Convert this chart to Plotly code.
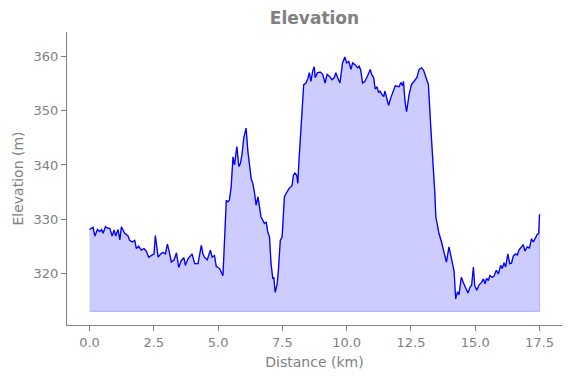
import plotly.graph_objects as go

distance_km = [
    0.00, 0.14, 0.21, 0.31, 0.40, 0.47, 0.53, 0.62, 0.73, 0.79, 0.88, 0.96, 1.02, 1.11, 1.18, 1.24,
    1.37, 1.50, 1.56, 1.66, 1.76, 1.82, 1.91, 2.02, 2.12, 2.21, 2.30, 2.41, 2.51, 2.56, 2.67, 2.77,
    2.86, 2.95, 3.03, 3.12, 3.18, 3.29, 3.38, 3.47, 3.57, 3.67, 3.73, 3.83, 3.89, 3.99, 4.09, 4.22,
    4.35, 4.41, 4.47, 4.58, 4.70, 4.77, 4.86, 4.93, 5.06, 5.19, 5.32, 5.38, 5.44, 5.51, 5.58, 5.64,
    5.73, 5.81, 5.87, 5.93, 6.00, 6.09, 6.16, 6.22, 6.29, 6.35, 6.41, 6.48, 6.55, 6.61, 6.67, 6.74,
    6.80, 6.87, 6.93, 7.00, 7.06, 7.13, 7.17, 7.22, 7.30, 7.35, 7.42, 7.49, 7.58, 7.64, 7.71, 7.77,
    7.84, 7.88, 7.93, 7.99, 8.06, 8.10, 8.14, 8.23, 8.33, 8.42, 8.49, 8.55, 8.61, 8.68, 8.74, 8.78,
    8.87, 8.98, 9.07, 9.16, 9.24, 9.32, 9.43, 9.52, 9.58, 9.65, 9.74, 9.84, 9.93, 10.00, 10.08, 10.17,
    10.23, 10.32, 10.43, 10.49, 10.55, 10.62, 10.71, 10.81, 10.92, 10.97, 11.05, 11.11, 11.18, 11.24,
    11.30, 11.37, 11.44, 11.49, 11.55, 11.63, 11.72, 11.82, 11.89, 11.98, 12.04, 12.11, 12.17, 12.21,
    12.27, 12.33, 12.43, 12.52, 12.62, 12.73, 12.82, 12.91, 12.99, 13.08, 13.18, 13.27, 13.36, 13.43,
    13.47, 13.53, 13.59, 13.69, 13.79, 13.88, 13.98, 14.07, 14.18, 14.24, 14.31, 14.37, 14.46, 14.54,
    14.63, 14.72, 14.80, 14.86, 14.93, 14.98, 15.06, 15.15, 15.24, 15.32, 15.38, 15.44, 15.51, 15.57,
    15.67, 15.73, 15.82, 15.90, 15.99, 16.05, 16.12, 16.18, 16.27, 16.34, 16.41, 16.48, 16.57, 16.64,
    16.70, 16.79, 16.87, 16.93, 17.02, 17.11, 17.19, 17.26, 17.32, 17.41, 17.47, 17.50,
]

elevation_m = [
    328.1, 328.5, 326.9, 328.1, 327.7, 328.1, 327.4, 328.6, 328.3, 328.3, 326.9, 328.0, 326.9, 328.1, 326.2, 328.6,
    327.4, 326.9, 326.1, 325.8, 326.1, 324.6, 325.0, 324.3, 324.6, 324.1, 323.0, 323.3, 323.6, 327.0, 323.0, 323.6,
    323.9, 323.6, 325.4, 323.6, 322.1, 322.5, 323.8, 321.1, 322.4, 322.9, 321.5, 322.7, 323.1, 323.6, 321.8, 321.8,
    325.2, 323.6, 323.0, 322.5, 324.3, 323.0, 323.3, 321.3, 320.9, 319.6, 333.5, 333.2, 333.5, 336.0, 341.5, 340.0,
    343.4, 339.7, 340.3, 341.9, 345.0, 346.8, 342.5, 339.7, 337.4, 336.6, 335.1, 332.6, 334.1, 332.3, 330.4, 329.8,
    329.2, 329.5, 327.7, 326.7, 321.8, 319.0, 319.3, 316.5, 318.1, 320.9, 326.1, 326.7, 334.1, 334.7, 335.4, 335.7,
    336.0, 336.3, 338.1, 338.5, 338.1, 336.6, 340.3, 348.3, 354.8, 355.1, 355.9, 357.0, 355.4, 357.3, 358.1, 356.1,
    357.0, 357.1, 356.7, 355.1, 356.7, 356.4, 355.7, 356.1, 357.0, 356.1, 355.1, 358.8, 359.9, 358.8, 359.1, 357.6,
    358.8, 358.5, 357.9, 358.2, 357.4, 355.1, 355.4, 356.4, 357.6, 356.7, 356.1, 354.0, 354.4, 353.4,
    353.6, 353.0, 352.6, 353.6, 352.2, 351.0, 352.4, 353.6, 354.6, 354.5, 354.4, 355.2, 354.6, 355.4,
    351.7, 349.8, 353.0, 354.8, 355.4, 356.1, 357.6, 357.9, 357.5, 356.4, 354.8, 347.1, 340.9, 334.8,
    330.4, 328.6, 327.4, 325.8, 323.6, 322.1, 324.9, 322.7, 320.4, 315.3, 316.6, 316.1, 319.3, 318.3,
    317.2, 316.4, 317.5, 317.8, 321.2, 317.8, 316.9, 317.9, 318.3, 319.0, 318.1, 319.1, 318.7, 319.6,
    319.3, 319.5, 320.6, 319.9, 321.5, 320.9, 322.0, 321.2, 323.6, 321.8, 321.9, 323.2, 323.6, 323.4,
    324.3, 324.9, 325.3, 324.1, 324.9, 324.7, 326.4, 325.8, 326.5, 327.2, 327.4, 330.9,
]

fill_base_m = 313.0
x_ticks = [0.0, 2.5, 5.0, 7.5, 10.0, 12.5, 15.0, 17.5]
y_ticks = [320, 330, 340, 350, 360]

GRAY = "#808080"
FONT = "DejaVu Sans"

fig = go.Figure()

# filled area under profile (polygon down to baseline)
fill_x = distance_km + distance_km[::-1]
fill_y = elevation_m + [fill_base_m] * len(distance_km)
fig.add_trace(go.Scatter(
    x=fill_x, y=fill_y, mode="lines", fill="toself",
    fillcolor="rgba(0,0,255,0.2)",
    line=dict(color="rgba(0,0,255,0.2)", width=1.2),
    hoverinfo="skip", showlegend=False,
))

fig.add_trace(go.Scatter(
    x=distance_km, y=elevation_m, mode="lines",
    line=dict(color="#0000ff", width=1.3),
    showlegend=False,
))

fig.update_layout(
    width=571, height=378,
    margin=dict(l=67, r=9, t=32, b=53),
    paper_bgcolor="white", plot_bgcolor="white",
    font=dict(family=FONT, color=GRAY, size=13),
    title=dict(
        text="<b>Elevation</b>", x=0.5, xref="paper", xanchor="center",
        y=1 - 18 / 378, yref="container", yanchor="middle",
        font=dict(family=FONT, size=17, color=GRAY),
    ),
)

fig.update_xaxes(
    range=[-0.875, 18.375],
    tickvals=x_ticks, ticktext=[f"{v:.1f}" for v in x_ticks],
    showgrid=False, zeroline=False,
    showline=True, linecolor=GRAY, linewidth=1,
    ticks="outside", ticklen=5, tickcolor=GRAY, tickwidth=1,
    tickfont=dict(family=FONT, size=13, color=GRAY),
    title=dict(text="Distance (km)", font=dict(family=FONT, size=14, color=GRAY), standoff=8),
)

fig.update_yaxes(
    range=[310.5, 364.5],
    tickvals=y_ticks,
    showgrid=False, zeroline=False,
    showline=True, linecolor=GRAY, linewidth=1,
    ticks="outside", ticklen=5, tickcolor=GRAY, tickwidth=1,
    tickfont=dict(family=FONT, size=13, color=GRAY),
    title=dict(text="Elevation (m)", font=dict(family=FONT, size=14, color=GRAY), standoff=6),
)

fig.write_html(
    "out.html",
    config={"displayModeBar": False},
    post_script="document.body.style.margin='0';",
)
